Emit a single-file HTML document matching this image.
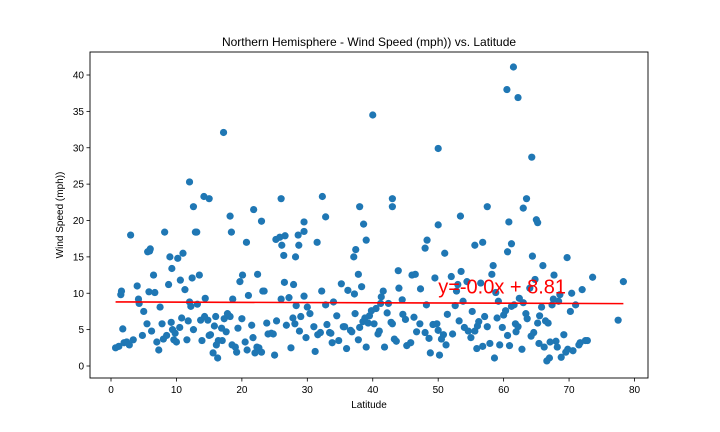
<!DOCTYPE html>
<html><head><meta charset="utf-8">
<style>
html,body{margin:0;padding:0;background:#fff;}
svg{display:block;font-family:"Liberation Sans","DejaVu Sans",sans-serif;}
</style></head>
<body>
<svg id="chart" width="720" height="432" viewBox="0 0 720 432">
<rect x="0" y="0" width="720" height="432" fill="#fff"/>
<text x="369" y="46" text-anchor="middle" font-size="12" fill="#000">Northern Hemisphere - Wind Speed (mph)) vs. Latitude</text>
<text x="369" y="408" text-anchor="middle" font-size="10" fill="#000">Latitude</text>
<text transform="translate(63,215) rotate(-90)" text-anchor="middle" font-size="10" fill="#000">Wind Speed (mph))</text>
<g id="ticks"></g>
<g id="marks"></g>
<g id="fit"></g>
<rect x="90" y="52" width="558" height="326" fill="none" stroke="#000" stroke-width="0.9"/>
</svg>
<script>
const xTicks = [0,10,20,30,40,50,60,70,80];
const yTicks = [0,5,10,15,20,25,30,35,40];
const lat = [
17.2,40,50,60.5,61.5,62.2,64.3,12,14.2,15,12.6,18.2,21.8,23,26,29.5,29.5,32.3,32.8,38,43,43,50,53.4,57.5,60.8,63,63.5,65,65.2,
3,5.6,6,9,8.2,11,12.9,13.1,18.4,20.7,22.4,23.4,25.2,25.8,26.6,26.1,26.4,28.6,28.7,28.2,31.5,37.4,37.1,39,37.8,38.6,48,48.3,51,55.6,
56.8,58.4,60.6,61.2,64.4,66,67.7,69.7,73.6,78.3,77.5,71.7,
0.7,1.2,1.5,2,2.4,1.6,1.8,4,4.2,5,5.5,5.8,6.2,6.5,7,7.5,7.8,8.5,8.8,9.2,9.6,10.2,10.5,11.3,11.8,12.2,12.6,13.5,13.9,14.4,
14.8,15.2,15.6,16,16.4,16.9,17.3,17.6,18.2,18.6,19,19.4,20,20.5,21,21.5,22,22.6,23.2,23.8,24.5,25.3,26,26.8,27.2,27.8,28.3,28.8,29.5,30,
4.3,4.8,5.9,6.7,7.3,8,9.3,9.8,10,10.8,11.6,12,12.4,13.2,13.7,14.3,15,15.8,16.3,17,17.8,18.5,19.2,20.1,20.8,21.7,22.3,23,24,25,
26.5,27.5,28.1,29,29.8,30.4,31,31.6,32.2,32.8,33.4,34,34.8,35.5,36.2,36.8,37.3,38,38.5,39,39.5,40.2,40.8,41.3,41.8,42.4,43,43.6,44,44.6,
31.2,32,33,33.8,34.5,35.2,36,36.6,37.2,37.8,38.3,38.8,39.3,39.8,40.5,41,41.6,42.2,42.8,43.3,43.9,44.5,45.2,46,46.7,47.3,48,48.6,49.2,49.8,
45,45.8,46.5,47.2,48.2,48.8,49.5,50.2,50.8,51.4,52,52.6,53.2,53.8,54.4,55,55.6,56.2,56.8,57.5,58.2,58.8,59.4,60,60.6,61.2,61.8,62.4,63,63.6,
50.5,51.2,52.2,52.8,53.5,54,54.6,55.2,55.9,56.5,57.1,57.9,58.6,59.2,59.8,60.3,60.9,61.6,62.2,62.8,63.4,64,64.6,65.2,65.8,66.4,67,67.6,68.2,68.8,
64.2,64.8,65.5,66.2,66.8,67.4,68,68.6,69.2,69.8,70.4,71,71.5,72,72.5,70.2,69.5,68.4,67.1,66.6,
2.8,3.4,9.4,10.6,16.1,19.7,24.8,27.9,33.6,35.7,41.2,46.3,50,53,56,59,61.9,65.4,70.6,72.8
];
const wind = [
32.1,34.5,29.9,38,41.1,36.9,28.7,25.3,23.3,23,21.9,20.6,21.5,19.9,23,19.8,18.5,23.3,20.5,21.9,23,21.9,19.4,20.6,21.9,19.8,21.7,23,20.1,19.7,
18,15.7,16.1,15,18.4,15.5,18.4,18.4,18.4,17,12.6,10.3,17.4,17.7,17.9,16.6,15.2,18,16.6,15,17,16,15,17.3,12.6,19.5,16.2,17.3,15.5,16.6,
17,13.8,15.7,16.8,15.1,13.8,12.5,14.9,12.2,11.6,6.3,3.2,
2.5,2.7,9.8,3.2,3.3,10.3,5.1,11,9.2,7.5,5.8,10.2,4.8,12.5,3.3,8.1,5.8,4.2,11.2,6,3.6,14.8,5.3,10.5,6.2,8.2,5,12.5,3.5,9.3,
6.3,4.3,1.8,6.8,3.5,5.2,6.5,4.7,6.8,9.2,2.6,5.2,6.5,3.3,9.7,5.6,1.8,2.5,10.3,5.9,4.5,6.2,9.2,5.6,9.4,6.6,8.3,4.8,9.6,8.1,
8.6,4.2,15.8,10.1,2.2,3.7,13.4,4.5,3.3,6.6,3.6,8.8,12.1,8.5,6.3,6.8,4.2,5.5,1.1,3.5,7.2,2.9,1.9,12.5,2.2,3.9,2.6,1.9,4.4,1.5,
11.5,2.5,5.8,6.8,3.9,7.2,5.4,4.3,10.3,8.4,4.6,8.8,3.5,5.4,10.4,4.7,7.2,5.3,6.1,2.6,6.9,5.8,4.4,9.5,2.6,8.6,5.8,3.4,10.7,7.1,
2,4.6,5.7,3.2,6.9,11.3,2.4,4.9,9.9,3.6,10.9,6.6,5.9,7.6,7.9,4.8,10.3,7.3,6,3.7,13.1,9.1,2.8,12.5,4.7,10.6,4.6,3.8,5.7,5.8,
6.4,3.2,12.6,5.8,8.4,1.8,12.1,1.5,4.3,7.1,12.3,8.3,6.2,8.9,11.6,3.9,4.8,6.1,2.7,5.4,12.6,10.1,2.9,7,4.2,8.2,5.8,9.3,8.7,6.5,
3.7,2.9,4.4,10.3,13,5.3,4.8,7.5,2.4,11.4,6.8,3.1,1.1,8.9,5.3,7.6,2.8,8.4,5.4,2.3,7.2,10.7,4.6,5.9,8.1,6.2,1.1,9.2,2.6,1.2,
4.1,11.9,6.9,2.6,5.9,8.4,3.4,9.8,4.3,2.3,10,8.4,2.9,10.5,3.5,7.5,1.9,8.9,3.3,0.7,
2.9,3.6,5,11.8,2.9,11.6,4.4,11.2,4.5,5.4,8.6,6.7,4.9,11.2,5.5,6.6,4.7,3.1,2.1,3.5
];
const fitSlope = -0.003;
const fitIntercept = 8.81;
const fitRange = [0.7, 78.3];
const fitLabel = "y=-0.0x + 8.81";

const NS = "http://www.w3.org/2000/svg";
const X0 = 90, X1 = 648, Y0 = 378, Y1 = 52;
function xs(v){ return 111 + v * (634.5 - 111) / 80; }
function ys(v){ return 366 - v * (366 - 75) / 40; }
function mk(tag, attrs, parent){
  const e = document.createElementNS(NS, tag);
  for (const k in attrs) e.setAttribute(k, attrs[k]);
  parent.appendChild(e); return e;
}
const tg = document.getElementById('ticks');
xTicks.forEach(t => {
  const l = mk('line', {x1: xs(t), x2: xs(t), y1: Y0, y2: Y0 + 3.5, stroke: '#000', 'stroke-width': 0.8}, tg);
  
  
  const tx = mk('text', {x: xs(t), y: Y0 + 15, 'text-anchor': 'middle', 'font-size': 10, fill: '#000'}, tg);
  tx.textContent = t;
  
  
});
yTicks.forEach(t => {
  const l = mk('line', {x1: X0 - 3.5, x2: X0, y1: ys(t), y2: ys(t), stroke: '#000', 'stroke-width': 0.8}, tg);
  
  
  const tx = mk('text', {x: X0 - 6, y: ys(t) + 3.5, 'text-anchor': 'end', 'font-size': 10, fill: '#000'}, tg);
  tx.textContent = t;
  
  
});
const mg = document.getElementById('marks');
lat.forEach((v, i) => {
  const c = mk('circle', {cx: xs(v), cy: ys(wind[i]), r: 3.6, fill: '#1f77b4'}, mg);
  
  
});
const fg = document.getElementById('fit');
const fl = mk('line', {x1: xs(fitRange[0]), y1: ys(fitIntercept + fitSlope * fitRange[0]), x2: xs(fitRange[1]), y2: ys(fitIntercept + fitSlope * fitRange[1]), stroke: '#ff0000', 'stroke-width': 1.6}, fg);


const ft = mk('text', {x: xs(50), y: ys(10), 'font-size': 20, fill: '#ff0000'}, fg);
ft.textContent = fitLabel;


</script>
</body></html>
